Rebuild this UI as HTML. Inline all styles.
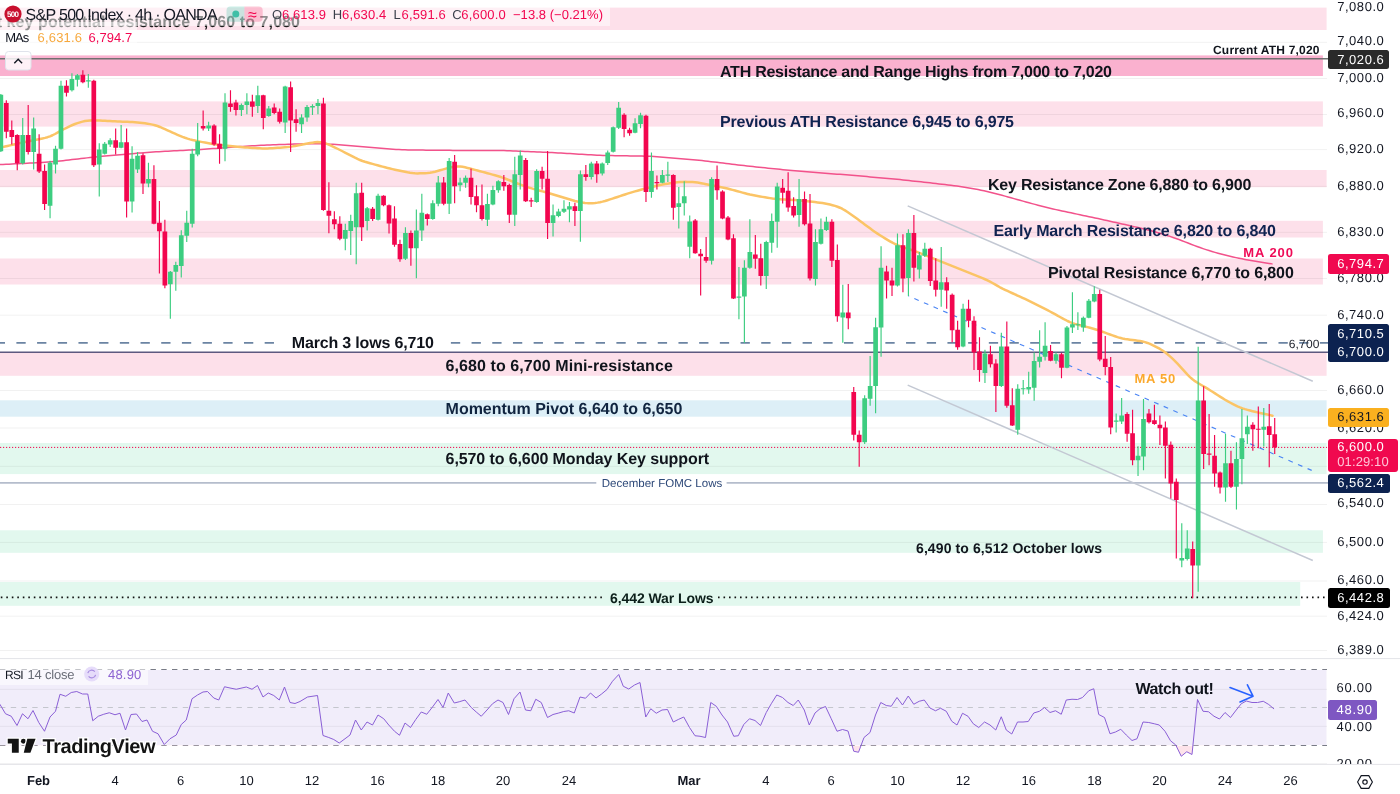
<!DOCTYPE html>
<html lang="en"><head><meta charset="utf-8"><title>S&amp;P 500 Index · 4h · OANDA</title>
<style>html,body{margin:0;padding:0;background:#fff}
body{width:1400px;height:794px;overflow:hidden;position:relative;font-family:"Liberation Sans",sans-serif;text-rendering:geometricPrecision;-webkit-font-smoothing:antialiased}
.t{position:absolute;white-space:nowrap;margin:0}
.b{position:absolute;display:block}
#chart{position:absolute;left:0;top:0}
#root{position:absolute;left:0;top:0;width:1400px;height:794px;overflow:hidden;will-change:transform}</style></head><body>
<div id="root">
<svg id="chart" width="1400" height="794" viewBox="0 0 1400 794">
<rect x="0" y="7.6" width="1326.6" height="22.4" fill="#fde0ea"/>
<rect x="0" y="55.4" width="1322.9" height="20.6" fill="#fab1cf"/>
<rect x="0" y="101.4" width="1322.9" height="25.2" fill="#fde0ea"/>
<rect x="0" y="170" width="1326.6" height="17.2" fill="#fde0ea"/>
<rect x="0" y="220.8" width="1322.9" height="16.7" fill="#fde0ea"/>
<rect x="0" y="258.5" width="1322.9" height="26" fill="#fde0ea"/>
<rect x="0" y="352.3" width="1326.6" height="23.5" fill="#fde0ea"/>
<rect x="0" y="400.3" width="1326.6" height="16.4" fill="#ddeff7"/>
<rect x="0" y="443" width="1326.6" height="31.1" fill="#e2f8ee"/>
<rect x="0" y="530.3" width="1322.9" height="22.5" fill="#e2f8ee"/>
<rect x="0" y="582" width="1300.2" height="23.8" fill="#e2f8ee"/>
<rect x="0" y="670" width="1326.5" height="75" fill="#f1edfa"/>
<line x1="0" x2="1327" y1="42.3" y2="42.3" stroke="#000" stroke-opacity=".055" stroke-width="1"/>
<line x1="0" x2="1327" y1="78.5" y2="78.5" stroke="#000" stroke-opacity=".055" stroke-width="1"/>
<line x1="0" x2="1327" y1="114.5" y2="114.5" stroke="#000" stroke-opacity=".055" stroke-width="1"/>
<line x1="0" x2="1327" y1="149.6" y2="149.6" stroke="#000" stroke-opacity=".055" stroke-width="1"/>
<line x1="0" x2="1327" y1="186.3" y2="186.3" stroke="#000" stroke-opacity=".055" stroke-width="1"/>
<line x1="0" x2="1327" y1="232.3" y2="232.3" stroke="#000" stroke-opacity=".055" stroke-width="1"/>
<line x1="0" x2="1327" y1="278.5" y2="278.5" stroke="#000" stroke-opacity=".055" stroke-width="1"/>
<line x1="0" x2="1327" y1="315.2" y2="315.2" stroke="#000" stroke-opacity=".055" stroke-width="1"/>
<line x1="0" x2="1327" y1="352.6" y2="352.6" stroke="#000" stroke-opacity=".055" stroke-width="1"/>
<line x1="0" x2="1327" y1="390.5" y2="390.5" stroke="#000" stroke-opacity=".055" stroke-width="1"/>
<line x1="0" x2="1327" y1="428" y2="428" stroke="#000" stroke-opacity=".055" stroke-width="1"/>
<line x1="0" x2="1327" y1="466.3" y2="466.3" stroke="#000" stroke-opacity=".055" stroke-width="1"/>
<line x1="0" x2="1327" y1="504.5" y2="504.5" stroke="#000" stroke-opacity=".055" stroke-width="1"/>
<line x1="0" x2="1327" y1="542.4" y2="542.4" stroke="#000" stroke-opacity=".055" stroke-width="1"/>
<line x1="0" x2="1327" y1="581" y2="581" stroke="#000" stroke-opacity=".055" stroke-width="1"/>
<line x1="0" x2="1327" y1="616.2" y2="616.2" stroke="#000" stroke-opacity=".055" stroke-width="1"/>
<line x1="0" x2="1327" y1="650.5" y2="650.5" stroke="#000" stroke-opacity=".055" stroke-width="1"/>
<line x1="0" x2="1327" y1="689.3" y2="689.3" stroke="#000" stroke-opacity=".055" stroke-width="1"/>
<line x1="0" x2="1327" y1="726.3" y2="726.3" stroke="#000" stroke-opacity=".055" stroke-width="1"/>
<line x1="0" x2="1327" y1="763.6" y2="763.6" stroke="#000" stroke-opacity=".055" stroke-width="1"/>
<line x1="0" x2="1328" y1="58.7" y2="58.7" stroke="#707070" stroke-width="1.6"/>
<line x1="-4.3" x2="1328" y1="342.9" y2="342.9" stroke="#6b84a3" stroke-width="1.7" stroke-dasharray="9.3 11.39"/>
<rect x="276.5" y="334" width="172" height="17" fill="#fff"/>
<line x1="0" x2="1328" y1="352.3" y2="352.3" stroke="#5d5980" stroke-width="1.6"/>
<line x1="0" x2="1327" y1="447.4" y2="447.4" stroke="#f2064f" stroke-width="1" stroke-dasharray="1.2 1.8"/>
<line x1="0" x2="596.3" y1="482.8" y2="482.8" stroke="#b5bdcc" stroke-width="1.8"/>
<line x1="726.6" x2="1328" y1="482.8" y2="482.8" stroke="#b5bdcc" stroke-width="1.8"/>
<line x1="0.8" x2="603" y1="597.4" y2="597.4" stroke="#111" stroke-width="1.8" stroke-dasharray="1.6 3.9"/>
<line x1="718" x2="1325" y1="597.4" y2="597.4" stroke="#111" stroke-width="1.8" stroke-dasharray="1.6 3.9"/>
<line x1="0" x2="1400" y1="658.6" y2="658.6" stroke="#e3e4e8" stroke-width="1"/>
<line x1="0" x2="1400" y1="764.4" y2="764.4" stroke="#e3e4e8" stroke-width="1"/>
<line x1="0" x2="1327" y1="669.5" y2="669.5" stroke="#787b86" stroke-width="1" stroke-dasharray="5.4 5.35"/>
<line x1="0" x2="1327" y1="745.5" y2="745.5" stroke="#787b86" stroke-width="1" stroke-dasharray="5.4 5.35"/>
<line x1="0" x2="1327" y1="707.5" y2="707.5" stroke="#c4c6cd" stroke-width="1" stroke-dasharray="5.4 5.35"/>
<line x1="907.7" y1="205.9" x2="1312.8" y2="381.31" stroke="#c3c8d3" stroke-width="1.5"/>
<line x1="907.7" y1="385.1" x2="1312.8" y2="560.51" stroke="#c3c8d3" stroke-width="1.5"/>
<path d="M0 164.6L3 164.45L6 164.3L9 164.15L12 164L15 163.86L18 163.71L21 163.56L24 163.41L27 163.26L30 163.11L33 162.96L36 162.81L39 162.65L42 162.48L45 162.29L48 162.08L51 161.84L54 161.57L57 161.28L60 160.96L63 160.63L66 160.3L69 159.95L72 159.61L75 159.26L78 158.92L81 158.57L84 158.23L87 157.88L90 157.54L93 157.21L96 156.88L99 156.57L102 156.27L105 155.98L108 155.7L111 155.43L114 155.17L117 154.91L120 154.65L123 154.4L126 154.14L129 153.89L132 153.63L135 153.38L138 153.12L141 152.88L144 152.64L147 152.41L150 152.19L153 151.99L156 151.8L159 151.63L162 151.47L165 151.32L168 151.16L171 151.01L174 150.86L177 150.72L180 150.57L183 150.42L186 150.27L189 150.11L192 149.96L195 149.8L198 149.63L201 149.45L204 149.26L207 149.05L210 148.84L213 148.62L216 148.4L219 148.18L222 147.95L225 147.72L228 147.5L231 147.27L234 147.05L237 146.82L240 146.6L243 146.38L246 146.18L249 145.98L252 145.8L255 145.64L258 145.49L261 145.35L264 145.22L267 145.1L270 144.98L273 144.86L276 144.74L279 144.62L282 144.5L285 144.38L288 144.27L291 144.16L294 144.05L297 143.96L300 143.88L303 143.81L306 143.77L309 143.74L312 143.72L315 143.73L318 143.75L321 143.79L324 143.86L327 143.98L330 144.13L333 144.33L336 144.55L339 144.8L342 145.06L345 145.32L348 145.59L351 145.85L354 146.11L357 146.36L360 146.61L363 146.86L366 147.1L369 147.35L372 147.59L375 147.83L378 148.08L381 148.32L384 148.56L387 148.8L390 149.03L393 149.24L396 149.44L399 149.6L402 149.74L405 149.84L408 149.92L411 149.98L414 150.02L417 150.06L420 150.09L423 150.12L426 150.15L429 150.18L432 150.21L435 150.24L438 150.27L441 150.3L444 150.32L447 150.35L450 150.36L453 150.38L456 150.39L459 150.39L462 150.4L465 150.4L468 150.4L471 150.4L474 150.4L477 150.4L480 150.4L483 150.4L486 150.4L489 150.41L492 150.42L495 150.44L498 150.48L501 150.53L504 150.6L507 150.69L510 150.79L513 150.91L516 151.02L519 151.15L522 151.27L525 151.4L528 151.52L531 151.65L534 151.77L537 151.9L540 152.03L543 152.16L546 152.29L549 152.43L552 152.58L555 152.74L558 152.9L561 153.07L564 153.25L567 153.43L570 153.6L573 153.78L576 153.96L579 154.14L582 154.32L585 154.5L588 154.67L591 154.84L594 155L597 155.15L600 155.28L603 155.4L606 155.49L609 155.56L612 155.62L615 155.68L618 155.72L621 155.77L624 155.81L627 155.85L630 155.89L633 155.93L636 155.98L639 156.03L642 156.09L645 156.16L648 156.25L651 156.37L654 156.53L657 156.71L660 156.92L663 157.15L666 157.39L669 157.64L672 157.9L675 158.16L678 158.41L681 158.67L684 158.93L687 159.19L690 159.46L693 159.73L696 160.01L699 160.31L702 160.62L705 160.95L708 161.29L711 161.64L714 162L717 162.36L720 162.72L723 163.08L726 163.45L729 163.81L732 164.17L735 164.53L738 164.89L741 165.25L744 165.6L747 165.95L750 166.29L753 166.61L756 166.93L759 167.24L762 167.55L765 167.85L768 168.15L771 168.45L774 168.75L777 169.04L780 169.34L783 169.64L786 169.94L789 170.23L792 170.52L795 170.81L798 171.08L801 171.35L804 171.61L807 171.85L810 172.09L813 172.32L816 172.55L819 172.78L822 173.01L825 173.23L828 173.46L831 173.68L834 173.91L837 174.14L840 174.37L843 174.6L846 174.83L849 175.07L852 175.32L855 175.57L858 175.83L861 176.09L864 176.35L867 176.62L870 176.89L873 177.16L876 177.42L879 177.69L882 177.96L885 178.23L888 178.5L891 178.77L894 179.05L897 179.33L900 179.62L903 179.92L906 180.23L909 180.55L912 180.88L915 181.21L918 181.54L921 181.87L924 182.21L927 182.54L930 182.87L933 183.21L936 183.54L939 183.88L942 184.22L945 184.57L948 184.94L951 185.31L954 185.7L957 186.11L960 186.53L963 186.97L966 187.42L969 187.9L972 188.4L975 188.94L978 189.53L981 190.16L984 190.84L987 191.54L990 192.27L993 193.02L996 193.78L999 194.56L1002 195.35L1005 196.15L1008 196.97L1011 197.8L1014 198.63L1017 199.47L1020 200.3L1023 201.14L1026 201.96L1029 202.78L1032 203.6L1035 204.4L1038 205.2L1041 205.98L1044 206.75L1047 207.5L1050 208.23L1053 208.94L1056 209.62L1059 210.28L1062 210.93L1065 211.58L1068 212.21L1071 212.85L1074 213.49L1077 214.12L1080 214.76L1083 215.4L1086 216.03L1089 216.67L1092 217.31L1095 217.96L1098 218.6L1101 219.26L1104 219.92L1107 220.58L1110 221.24L1113 221.91L1116 222.58L1119 223.26L1122 223.93L1125 224.6L1128 225.27L1131 225.95L1134 226.62L1137 227.3L1140 227.99L1143 228.7L1146 229.43L1149 230.19L1152 230.99L1155 231.83L1158 232.69L1161 233.58L1164 234.5L1167 235.44L1170 236.41L1173 237.42L1176 238.48L1179 239.57L1182 240.71L1185 241.87L1188 243.05L1191 244.22L1194 245.37L1197 246.49L1200 247.57L1203 248.6L1206 249.59L1209 250.54L1212 251.46L1215 252.35L1218 253.22L1221 254.05L1224 254.84L1227 255.59L1230 256.29L1233 256.96L1236 257.61L1239 258.23L1242 258.83L1245 259.41L1248 259.98L1251 260.52L1254 261.04L1257 261.53L1260 262.02L1263 262.49L1266 262.96L1269 263.42L1272 263.88" fill="none" stroke="#f2528b" stroke-width="1.5" stroke-linecap="round" stroke-linejoin="round"/>
<path d="M0 147.7L2.5 147.12L5 146.55L7.5 145.97L10 145.4L12.5 144.82L15 144.25L17.5 143.67L20 143.11L22.5 142.54L25 142L27.5 141.47L30 140.96L32.5 140.45L35 139.96L37.5 139.46L40 138.96L42.5 138.44L45 137.87L47.5 137.19L50 136.34L52.5 135.26L55 133.99L57.5 132.61L60 131.19L62.5 129.82L65 128.51L67.5 127.28L70 126.11L72.5 125.02L75 124.02L77.5 123.13L80 122.34L82.5 121.65L85 121.08L87.5 120.67L90 120.43L92.5 120.36L95 120.4L97.5 120.5L100 120.62L102.5 120.74L105 120.87L107.5 121L110 121.12L112.5 121.24L115 121.35L117.5 121.46L120 121.56L122.5 121.66L125 121.76L127.5 121.86L130 121.97L132.5 122.08L135 122.23L137.5 122.41L140 122.66L142.5 122.97L145 123.32L147.5 123.7L150 124.12L152.5 124.62L155 125.24L157.5 126.03L160 126.97L162.5 128.03L165 129.15L167.5 130.3L170 131.46L172.5 132.6L175 133.71L177.5 134.79L180 135.82L182.5 136.82L185 137.75L187.5 138.61L190 139.36L192.5 140.01L195 140.58L197.5 141.1L200 141.61L202.5 142.11L205 142.6L207.5 143.09L210 143.56L212.5 143.99L215 144.37L217.5 144.71L220 145L222.5 145.27L225 145.53L227.5 145.79L230 146.05L232.5 146.3L235 146.55L237.5 146.79L240 147L242.5 147.2L245 147.38L247.5 147.56L250 147.73L252.5 147.9L255 148.06L257.5 148.22L260 148.35L262.5 148.44L265 148.46L267.5 148.4L270 148.29L272.5 148.15L275 147.98L277.5 147.82L280 147.64L282.5 147.47L285 147.27L287.5 147.03L290 146.73L292.5 146.37L295 145.95L297.5 145.5L300 145.03L302.5 144.56L305 144.08L307.5 143.59L310 143.1L312.5 142.64L315 142.28L317.5 142.12L320 142.23L322.5 142.62L325 143.28L327.5 144.14L330 145.17L332.5 146.31L335 147.52L337.5 148.75L340 150L342.5 151.25L345 152.51L347.5 153.79L350 155.08L352.5 156.39L355 157.69L357.5 158.91L360 160.02L362.5 160.97L365 161.79L367.5 162.53L370 163.23L372.5 163.92L375 164.6L377.5 165.28L380 165.96L382.5 166.64L385 167.3L387.5 167.93L390 168.53L392.5 169.11L395 169.67L397.5 170.22L400 170.76L402.5 171.3L405 171.84L407.5 172.34L410 172.78L412.5 173.11L415 173.3L417.5 173.38L420 173.37L422.5 173.31L425 173.2L427.5 173.01L430 172.71L432.5 172.26L435 171.68L437.5 171.01L440 170.3L442.5 169.59L445 168.89L447.5 168.22L450 167.59L452.5 167.04L455 166.63L457.5 166.43L460 166.5L462.5 166.82L465 167.32L467.5 167.92L470 168.56L472.5 169.22L475 169.88L477.5 170.54L480 171.21L482.5 171.88L485 172.56L487.5 173.23L490 173.91L492.5 174.59L495 175.28L497.5 176L500 176.78L502.5 177.62L505 178.53L507.5 179.49L510 180.47L512.5 181.47L515 182.47L517.5 183.47L520 184.45L522.5 185.41L525 186.32L527.5 187.16L530 187.93L532.5 188.65L535 189.34L537.5 190.02L540 190.7L542.5 191.37L545 192.05L547.5 192.74L550 193.45L552.5 194.18L555 194.93L557.5 195.71L560 196.49L562.5 197.27L565 198.04L567.5 198.8L570 199.54L572.5 200.26L575 200.95L577.5 201.57L580 202.11L582.5 202.55L585 202.9L587.5 203.13L590 203.22L592.5 203.16L595 202.96L597.5 202.63L600 202.18L602.5 201.62L605 200.96L607.5 200.21L610 199.41L612.5 198.59L615 197.77L617.5 196.94L620 196.11L622.5 195.29L625 194.48L627.5 193.68L630 192.91L632.5 192.15L635 191.42L637.5 190.69L640 189.98L642.5 189.28L645 188.61L647.5 187.97L650 187.35L652.5 186.74L655 186.16L657.5 185.59L660 185.05L662.5 184.55L665 184.09L667.5 183.65L670 183.25L672.5 182.89L675 182.57L677.5 182.3L680 182.09L682.5 181.94L685 181.87L687.5 181.88L690 181.96L692.5 182.11L695 182.31L697.5 182.59L700 182.95L702.5 183.4L705 183.92L707.5 184.46L710 184.99L712.5 185.5L715 185.97L717.5 186.44L720 186.9L722.5 187.4L725 187.93L727.5 188.52L730 189.17L732.5 189.84L735 190.52L737.5 191.22L740 191.91L742.5 192.6L745 193.27L747.5 193.92L750 194.52L752.5 195.06L755 195.55L757.5 196L760 196.44L762.5 196.87L765 197.3L767.5 197.72L770 198.13L772.5 198.51L775 198.83L777.5 199.09L780 199.29L782.5 199.45L785 199.59L787.5 199.72L790 199.85L792.5 199.98L795 200.12L797.5 200.28L800 200.46L802.5 200.68L805 200.94L807.5 201.22L810 201.51L812.5 201.81L815 202.1L817.5 202.41L820 202.73L822.5 203.08L825 203.5L827.5 203.99L830 204.56L832.5 205.19L835 205.9L837.5 206.73L840 207.73L842.5 208.96L845 210.42L847.5 212.03L850 213.74L852.5 215.5L855 217.29L857.5 219.1L860 220.94L862.5 222.79L865 224.65L867.5 226.52L870 228.37L872.5 230.18L875 231.95L877.5 233.64L880 235.25L882.5 236.81L885 238.33L887.5 239.83L890 241.3L892.5 242.71L895 244.01L897.5 245.16L900 246.16L902.5 247.05L905 247.88L907.5 248.68L910 249.49L912.5 250.33L915 251.22L917.5 252.15L920 253.12L922.5 254.11L925 255.11L927.5 256.11L930 257.11L932.5 258.11L935 259.12L937.5 260.12L940 261.12L942.5 262.12L945 263.12L947.5 264.13L950 265.13L952.5 266.13L955 267.13L957.5 268.13L960 269.14L962.5 270.14L965 271.14L967.5 272.14L970 273.14L972.5 274.15L975 275.15L977.5 276.15L980 277.16L982.5 278.18L985 279.24L987.5 280.38L990 281.62L992.5 282.99L995 284.43L997.5 285.89L1000 287.28L1002.5 288.59L1005 289.81L1007.5 290.98L1010 292.12L1012.5 293.25L1015 294.39L1017.5 295.52L1020 296.66L1022.5 297.81L1025 298.99L1027.5 300.19L1030 301.42L1032.5 302.65L1035 303.9L1037.5 305.15L1040 306.4L1042.5 307.65L1045 308.92L1047.5 310.19L1050 311.5L1052.5 312.84L1055 314.21L1057.5 315.6L1060 316.99L1062.5 318.38L1065 319.73L1067.5 321L1070 322.13L1072.5 323.1L1075 323.91L1077.5 324.61L1080 325.27L1082.5 325.9L1085 326.53L1087.5 327.16L1090 327.8L1092.5 328.48L1095 329.2L1097.5 329.99L1100 330.84L1102.5 331.73L1105 332.64L1107.5 333.56L1110 334.47L1112.5 335.39L1115 336.27L1117.5 337.1L1120 337.84L1122.5 338.44L1125 338.93L1127.5 339.33L1130 339.68L1132.5 340.02L1135 340.35L1137.5 340.69L1140 341.07L1142.5 341.53L1145 342.14L1147.5 342.94L1150 343.93L1152.5 345.07L1155 346.29L1157.5 347.58L1160 348.96L1162.5 350.51L1165 352.26L1167.5 354.23L1170 356.37L1172.5 358.65L1175 361.07L1177.5 363.64L1180 366.35L1182.5 369.15L1185 371.95L1187.5 374.65L1190 377.14L1192.5 379.31L1195 381.16L1197.5 382.78L1200 384.27L1202.5 385.71L1205 387.17L1207.5 388.67L1210 390.22L1212.5 391.8L1215 393.4L1217.5 395.01L1220 396.61L1222.5 398.18L1225 399.7L1227.5 401.15L1230 402.52L1232.5 403.83L1235 405.08L1237.5 406.27L1240 407.37L1242.5 408.34L1245 409.17L1247.5 409.89L1250 410.56L1252.5 411.18L1255 411.79L1257.5 412.38L1260 412.95L1262.5 413.5L1265 414.05L1267.5 414.59L1270 415.13L1272.5 415.67" fill="none" stroke="#fbc466" stroke-width="2.5" stroke-linecap="round" stroke-linejoin="round"/>
<line x1="908.5" y1="296" x2="1311.7" y2="470.4" stroke="#4a84f4" stroke-width="1.15" stroke-dasharray="4.8 5.65" stroke-dashoffset="4.1"/>
<path d="M0.85 94.07V151.99M22.72 117.99V164.58M33.66 117.49V169.62M50.06 160.8V218.22M55.52 145.69V173.39M60.99 80.72V149.47M71.93 73.17V91.55M77.39 73.92V86.51M88.33 73.92V87.77M99.26 143.18V196.56M104.73 141.92V154.51M110.2 138.14V146.95M121.13 125.04V148.21M132.07 146.2V212.43M137.53 151.99V172.89M148.47 162.82V187.25M170.34 271.01V318.86M175.8 261.7V290.66M181.27 230.22V277.56M186.74 210.66V241.89M192.21 148.72V227.54M197.67 123.03V156.27M208.61 121.77V131.09M225.01 93.31V161.31M241.41 103.39V115.98M246.88 93.31V114.22M257.81 85.76V112.96M268.75 105.91V116.73M285.15 85.76V133.1M301.55 114.22V133.1M307.02 104.9V121.77M312.48 104.14V114.97M317.95 99.11V114.22M345.29 223.76V250.37M350.75 214.65V254.95M356.22 182.67V264.26M367.16 207.1V230.52M378.09 193.75V220.45M405.43 227.25V259.98M416.36 209.62V278.37M421.83 193.75V241.1M432.76 200.3V219.69M438.23 176.12V206.34M449.16 157.99V213.9M460.1 177.64V191.23M465.56 175.62V187.71M487.43 193.75V225.99M492.9 185.69V205.34M498.37 180.15V192.74M514.77 156.73V225.99M520.24 150.44V189.47M536.64 169.33V202.82M553.04 204.58V236.56M558.51 208.86V217.17M563.97 200.3V212.89M569.44 202.06V222.21M580.38 170.58V241.85M591.31 161.77V179.4M602.25 162.53V175.62M607.71 150.44V165.04M613.18 126.51V152.45M618.65 102.09V129.03M635.05 118.2V133.31M640.52 112.66V128.28M651.45 152.45V197.78M662.38 170.08V183.18M667.85 161.77V181.92M678.79 186.95V228.5M684.25 181.16V215.41M689.72 215.41V258.22M711.59 177.2V264.58M738.92 267.1V319.23M744.39 260.3V342.65M749.86 219.25V268.86M766.26 240.66V289.01M771.73 213.46V252.74M777.2 182.74V247.71M799.06 178.96V226.81M815.47 229.33V285.48M820.93 218.5V244.43M826.4 216.73V231.09M842.8 284.73V342.65M864.67 395.19V444.04M870.14 355.91V405.77M875.6 317.63V413.32M881.07 246.2V356.66M897.47 233.61V286.49M908.41 229.33V296.06M919.34 251.99V278.43M924.81 242.67V257.03M941.21 246.95V306.64M963.08 303.78V347.34M984.95 349.86V383.1M1001.35 332.74V386.88M1017.75 384.36V434.73M1023.22 380.08V394.43M1028.69 371.77V393.68M1034.15 352.38V400.73M1039.62 330.22V367.49M1045.09 322.16V360.44M1056.02 352.6V363.68M1066.96 325.91V368.21M1072.42 292.16V332.96M1077.89 312.31V329.93M1083.36 316.59V331.7M1088.83 298.96V318.35M1094.29 286.37V302.23M1116.16 413.54V432.43M1121.63 397.93V424.12M1138.03 446.28V475.91M1143.5 398.93V470.37M1181.77 523.25V567.32M1187.24 530.3V560.52M1198.17 346.81V591.75M1225.51 433.85V501.84M1236.44 442.16V509.4M1241.91 409.01V484.22M1247.37 415.56V443.92M1263.78 408V446.44" stroke="#3dcd80" stroke-width="1.15" fill="none"/>
<path d="M-1.5 94.82h4.7V151.23h-4.7zM20.37 135.12h4.7V163.32h-4.7zM31.31 128.57h4.7V151.99h-4.7zM47.71 162.82h4.7V205.63h-4.7zM53.17 148.72h4.7V164.58h-4.7zM58.64 85.76h4.7V148.72h-4.7zM69.58 78.96h4.7V90.29h-4.7zM75.04 75.18h4.7V79.72h-4.7zM85.98 80.22h4.7V81.42h-4.7zM96.91 149.47h4.7V164.58h-4.7zM102.38 143.68h4.7V153.75h-4.7zM107.85 140.15h4.7V144.43h-4.7zM118.78 142.17h4.7V147.71h-4.7zM129.72 158.79h4.7V201.6h-4.7zM135.18 155.77h4.7V169.62h-4.7zM146.12 178.93h4.7V183.47h-4.7zM167.99 271.77h4.7V284.36h-4.7zM173.45 264.97h4.7V271.77h-4.7zM178.92 235.26h4.7V265.98h-4.7zM184.39 222.75h4.7V235.85h-4.7zM189.86 153.75h4.7V223.76h-4.7zM195.32 141.16h4.7V154.51h-4.7zM206.26 125.55h4.7V128.57h-4.7zM222.66 102.38h4.7V148.72h-4.7zM239.06 104.9h4.7V109.93h-4.7zM244.53 101.62h4.7V104.9h-4.7zM255.46 95.33h4.7V105.91h-4.7zM266.4 108.42h4.7V115.98h-4.7zM282.8 86.51h4.7V122.53h-4.7zM299.2 117.49h4.7V124.29h-4.7zM304.67 106.91h4.7V117.49h-4.7zM310.13 105.91h4.7V107.42h-4.7zM315.6 102.88h4.7V105.91h-4.7zM342.94 230.06h4.7V238.87h-4.7zM348.4 220.95h4.7V231.02h-4.7zM353.87 193.25h4.7V227.25h-4.7zM364.81 208.36h4.7V220.95h-4.7zM375.74 195.77h4.7V219.69h-4.7zM403.08 233.04h4.7V258.72h-4.7zM414.01 230.52h4.7V248.15h-4.7zM419.48 212.64h4.7V230.52h-4.7zM430.41 203.32h4.7V218.93h-4.7zM435.88 182.42h4.7V203.83h-4.7zM446.81 161.01h4.7V203.83h-4.7zM457.75 182.42h4.7V185.19h-4.7zM463.21 177.64h4.7V182.67h-4.7zM485.08 204.08h4.7V219.69h-4.7zM490.55 189.97h4.7V204.58h-4.7zM496.02 181.16h4.7V190.23h-4.7zM512.42 174.36h4.7V214.65h-4.7zM517.89 155.47h4.7V175.12h-4.7zM534.29 171.09h4.7V202.06h-4.7zM550.69 215.16h4.7V222.96h-4.7zM556.16 211.38h4.7V215.91h-4.7zM561.62 208.86h4.7V211.63h-4.7zM567.09 206.34h4.7V209.62h-4.7zM578.03 174.36h4.7V210.88h-4.7zM588.96 163.53h4.7V176.88h-4.7zM599.89 163.53h4.7V173.61h-4.7zM605.36 152.45h4.7V163.03h-4.7zM610.83 127.27h4.7V151.7h-4.7zM616.3 107.63h4.7V127.77h-4.7zM632.7 123.24h4.7V132.81h-4.7zM638.17 115.18h4.7V124h-4.7zM649.1 171.09h4.7V191.99h-4.7zM660.03 175.12h4.7V182.67h-4.7zM665.5 174.61h4.7V175.81h-4.7zM676.44 203.32h4.7V207.1h-4.7zM681.9 196.27h4.7V203.32h-4.7zM687.37 221.45h4.7V246.64h-4.7zM709.24 178.96h4.7V260.8h-4.7zM736.57 296.56h4.7V297.76h-4.7zM742.04 267.85h4.7V296.56h-4.7zM747.51 251.99h4.7V267.85h-4.7zM763.91 241.92h4.7V275.91h-4.7zM769.38 221.01h4.7V242.67h-4.7zM774.85 186.51h4.7V221.77h-4.7zM796.71 199.11h4.7V214.97h-4.7zM813.12 241.92h4.7V278.93h-4.7zM818.58 229.33h4.7V243.68h-4.7zM824.05 221.77h4.7V230.08h-4.7zM840.45 312.43h4.7V317.46h-4.7zM862.32 398.21h4.7V442.28h-4.7zM867.79 386.12h4.7V398.72h-4.7zM873.25 327.2h4.7V386.12h-4.7zM878.72 267.85h4.7V327.54h-4.7zM895.12 245.19h4.7V285.48h-4.7zM906.06 233.1h4.7V277.93h-4.7zM916.99 255.26h4.7V269.62h-4.7zM922.46 248.72h4.7V255.77h-4.7zM938.86 282.21h4.7V289.76h-4.7zM960.73 308.81h4.7V346.59h-4.7zM982.6 353.39h4.7V373.03h-4.7zM999 346.59h4.7V386.12h-4.7zM1015.4 388.64h4.7V429.69h-4.7zM1020.87 388.14h4.7V389.34h-4.7zM1026.34 386.88h4.7V389.4h-4.7zM1031.8 360.94h4.7V387.64h-4.7zM1037.27 356.66h4.7V361.7h-4.7zM1042.74 345.83h4.7V356.66h-4.7zM1053.67 354.36h4.7V360.66h-4.7zM1064.61 327.42h4.7V367.71h-4.7zM1070.07 324.14h4.7V327.42h-4.7zM1075.54 324.14h4.7V325.34h-4.7zM1081.01 317.85h4.7V327.42h-4.7zM1086.48 300.72h4.7V317.85h-4.7zM1091.94 293.92h4.7V301.48h-4.7zM1113.81 420.59h4.7V421.79h-4.7zM1119.28 415.56h4.7V421.6h-4.7zM1135.68 455.76h4.7V460.29h-4.7zM1141.15 419.08h4.7V456.51h-4.7zM1179.42 558h4.7V560.52h-4.7zM1184.89 548.43h4.7V559.01h-4.7zM1195.82 400.45h4.7V565.56h-4.7zM1223.16 463.31h4.7V487.49h-4.7zM1234.09 459.03h4.7V486.73h-4.7zM1239.56 438.22h4.7V459.03h-4.7zM1245.02 426.64h4.7V434.19h-4.7zM1261.43 426.64h4.7V429.66h-4.7z" fill="#3dcd80"/>
<path d="M6.32 100.37V138.14M11.79 120.51V144.43M17.25 134.36V170.37M28.19 104.9V154.51M39.12 134.36V172.89M44.59 164.58V209.91M66.46 80.22V96.59M82.86 70.15V83.24M93.8 79.72V167.1M115.66 128.57V154.51M126.6 128.57V217.46M143 153.25V194.04M153.93 165.34V224.26M159.4 201.1V273.53M164.87 219.64V288.14M203.14 110.44V130.58M214.07 124.29V145.69M219.54 134.36V163.83M230.48 90.29V111.7M235.94 99.86V115.47M252.34 94.82V116.73M263.28 94.82V129.33M274.21 103.39V114.22M279.68 108.42V123.53M290.61 81.48V151.99M296.08 109.18V131.84M323.42 97.85V210.66M328.88 182.21V233.33M334.35 211.17V229.3M339.82 216.2V240.13M361.69 182.67V241.1M372.62 207.1V220.95M383.56 195.26V206.34M389.02 204.58V233.54M394.49 206.34V246.64M399.96 239.84V261.75M410.89 230.52V265.77M427.29 213.39V225.48M443.7 176.88V205.34M454.63 154.97V203.32M471.03 168.57V204.58M476.5 185.19V212.14M481.97 184.43V220.45M503.84 175.12V190.73M509.3 183.68V222.96M525.7 157.99V202.06M531.17 197.78V207.1M542.11 166.81V189.47M547.57 150.94V239.08M574.91 202.82V225.99M585.84 165.04V180.66M596.78 161.01V182.67M624.11 113.17V137.34M629.58 127.77V135.83M645.98 114.68V202.06M656.92 175.62V189.47M673.32 174.36V219.69M695.19 218.93V253.69M700.65 249.09V295.43M706.12 236.88V262.82M717.06 165.61V199.86M722.52 190.29V219.25M727.99 215.98V240.15M733.46 234.36V299.08M755.33 235.12V268.86M760.79 243.68V285.48M782.66 178.96V203.39M788.13 172.16V211.7M793.6 197.34V217.49M804.53 191.55V225.55M810 194.07V280.45M831.87 219.25V267.1M837.33 244.43V321.75M848.27 283.97V329.3M853.74 386.88V440.52M859.2 430.45V466.71M886.54 265.84V298.58M892.01 267.85V296.06M902.94 234.36V292.28M913.88 214.97V281.45M930.28 247.71V285.99M935.74 258.29V296.56M946.68 277.17V308.65M952.15 293.54V342.31M957.61 320.65V349.86M968.55 299.84V327.2M974.01 316.2V370.01M979.48 337.27V381.84M990.42 345.83V367.49M995.88 359.18V412.06M1006.82 321.41V407.78M1012.28 388.14V425.91M1050.56 345.04V361.16M1061.49 353.1V378.29M1099.76 289.64V361.16M1105.23 335.98V375.26M1110.69 356.88V434.19M1127.1 412.28V441.75M1132.56 409.76V465.33M1148.97 409.01V423.61M1154.43 404.73V424.87M1159.9 415.56V445.02M1165.37 421.6V478.42M1170.83 441.41V498.57M1176.3 478.42V558.5M1192.7 541.38V598.29M1203.64 386.34V469.11M1209.1 414.04V465.33M1214.57 435.11V486.73M1220.04 471.62V493.53M1230.97 450.72V487.99M1252.84 422.35V450.72M1258.31 406.49V448.2M1269.24 403.97V467.34M1274.71 418.07V454" stroke="#f2064f" stroke-width="1.15" fill="none"/>
<path d="M3.97 102.88h4.7V131.84h-4.7zM9.44 130.08h4.7V136.88h-4.7zM14.9 135.12h4.7V163.32h-4.7zM25.84 135.12h4.7V151.99h-4.7zM36.77 153.75h4.7V171.38h-4.7zM42.24 170.88h4.7V204.12h-4.7zM64.11 85.76h4.7V92.81h-4.7zM80.51 74.68h4.7V82.23h-4.7zM91.45 80.72h4.7V165.34h-4.7zM113.31 140.15h4.7V147.71h-4.7zM124.25 142.17h4.7V201.6h-4.7zM140.65 155.26h4.7V183.47h-4.7zM151.58 178.93h4.7V223.76h-4.7zM157.05 222.75h4.7V231.31h-4.7zM162.52 231.48h4.7V285.62h-4.7zM200.79 126.05h4.7V128.57h-4.7zM211.72 125.55h4.7V144.43h-4.7zM217.19 143.68h4.7V148.72h-4.7zM228.13 103.39h4.7V106.91h-4.7zM233.59 102.38h4.7V109.93h-4.7zM249.99 101.62h4.7V106.66h-4.7zM260.93 95.33h4.7V117.99h-4.7zM271.86 107.42h4.7V112.96h-4.7zM277.33 111.7h4.7V121.77h-4.7zM288.26 87.27h4.7V120.51h-4.7zM293.73 119.25h4.7V123.03h-4.7zM321.07 103.39h4.7V209.91h-4.7zM326.53 210.66h4.7V215.7h-4.7zM332 219.23h4.7V224.26h-4.7zM337.47 223.76h4.7V238.87h-4.7zM359.34 192.74h4.7V227.25h-4.7zM370.27 208.86h4.7V218.93h-4.7zM381.21 195.77h4.7V205.34h-4.7zM386.67 205.34h4.7V223.47h-4.7zM392.14 218.43h4.7V244.87h-4.7zM397.61 244.12h4.7V259.23h-4.7zM408.54 233.04h4.7V248.15h-4.7zM424.94 214.15h4.7V218.93h-4.7zM441.35 182.42h4.7V203.83h-4.7zM452.28 161.77h4.7V186.2h-4.7zM468.68 177.64h4.7V197.03h-4.7zM474.15 196.27h4.7V205.34h-4.7zM479.62 205.34h4.7V218.93h-4.7zM501.49 181.92h4.7V186.2h-4.7zM506.95 184.94h4.7V214.65h-4.7zM523.35 160.01h4.7V201.31h-4.7zM528.82 200.3h4.7V201.5h-4.7zM539.76 171.09h4.7V178.64h-4.7zM545.22 178.64h4.7V222.96h-4.7zM572.56 206.34h4.7V210.88h-4.7zM583.49 174.36h4.7V176.88h-4.7zM594.43 163.53h4.7V174.36h-4.7zM621.76 114.68h4.7V129.03h-4.7zM627.23 129.79h4.7V133.31h-4.7zM643.63 115.69h4.7V191.99h-4.7zM654.57 181.92h4.7V183.18h-4.7zM670.97 175.12h4.7V207.85h-4.7zM692.84 220.45h4.7V253.18h-4.7zM698.3 253.63h4.7V256.27h-4.7zM703.77 257.03h4.7V260.8h-4.7zM714.71 178.96h4.7V190.29h-4.7zM720.17 191.55h4.7V218.5h-4.7zM725.64 217.49h4.7V239.4h-4.7zM731.11 238.14h4.7V298.58h-4.7zM752.98 254.51h4.7V258.79h-4.7zM758.44 258.29h4.7V275.91h-4.7zM780.31 187.77h4.7V192.81h-4.7zM785.78 190.8h4.7V207.42h-4.7zM791.25 205.91h4.7V215.47h-4.7zM802.18 199.11h4.7V224.29h-4.7zM807.65 223.53h4.7V278.43h-4.7zM829.52 221.77h4.7V260.8h-4.7zM834.98 260.05h4.7V316.2h-4.7zM845.92 312.43h4.7V318.22h-4.7zM851.39 391.92h4.7V434.73h-4.7zM856.85 434.73h4.7V442.28h-4.7zM884.19 271.38h4.7V280.45h-4.7zM889.66 280.45h4.7V285.48h-4.7zM900.59 245.19h4.7V278.43h-4.7zM911.53 233.1h4.7V267.85h-4.7zM927.93 248.72h4.7V280.95h-4.7zM933.39 280.45h4.7V289.76h-4.7zM944.33 282.21h4.7V290.52h-4.7zM949.8 294.8h4.7V330.22h-4.7zM955.26 329.72h4.7V347.34h-4.7zM966.2 308.81h4.7V320.65h-4.7zM971.66 320.65h4.7V352.38h-4.7zM977.13 351.62h4.7V370.01h-4.7zM988.07 354.14h4.7V364.22h-4.7zM993.53 363.46h4.7V386.12h-4.7zM1004.47 346.59h4.7V405.77h-4.7zM1009.93 405.26h4.7V425.41h-4.7zM1048.21 351.09h4.7V360.66h-4.7zM1059.14 354.36h4.7V367.71h-4.7zM1097.41 293.92h4.7V359.4h-4.7zM1102.88 358.64h4.7V366.95h-4.7zM1108.34 366.95h4.7V427.39h-4.7zM1124.75 414.04h4.7V433.69h-4.7zM1130.21 433.18h4.7V460.29h-4.7zM1146.62 413.54h4.7V422.35h-4.7zM1152.08 420.34h4.7V424.12h-4.7zM1157.55 424.87h4.7V428.15h-4.7zM1163.02 427.39h4.7V445.69h-4.7zM1168.48 444.68h4.7V483.46h-4.7zM1173.95 481.7h4.7V500.08h-4.7zM1190.35 548.93h4.7V565.56h-4.7zM1201.29 400.45h4.7V454h-4.7zM1206.75 453.49h4.7V454.69h-4.7zM1212.22 455.76h4.7V473.39h-4.7zM1217.69 472.38h4.7V487.49h-4.7zM1228.62 463.31h4.7V486.73h-4.7zM1250.49 424.87h4.7V429.15h-4.7zM1255.96 428.65h4.7V429.85h-4.7zM1266.89 426.13h4.7V434.95h-4.7zM1272.36 434.19h4.7V447.54h-4.7z" fill="#f2064f"/>
<clipPath id="os"><rect x="0" y="745.5" width="1327" height="19"/></clipPath>
<path d="M0 745.5L0 704.5L5.5 713.75L11.25 716.25L17 725.5L22.5 713.75L28 718.75L33 710.5L38.75 722.5L44.5 731.25L50 717L55.5 711.25L60 694.25L65.75 696.25L71.25 692.5L76.75 691.5L82.5 694L87.75 694L92.75 720.75L98.25 716.25L103.75 714.25L109.25 712.75L115 714.75L120 713.25L125.5 730L131 714.5L136.5 714L142 721.5L147 720L152.5 731.25L158 733.75L164.25 744.5L170 738.75L176.25 735L181.25 724.5L186.25 720L192 698.75L197.5 695L203 692L207.5 691.5L213.75 698L218.75 700L224.5 686.75L230 688L236.25 689.25L246.25 687L252 689.25L257.5 685.5L263 697L268.25 693L273.75 695.5L279.25 700L284.5 687L290 702.5L295 703.5L300 701.5L307.5 697L317.5 695.5L323 735.5L328.75 737.5L333.75 739.5L339.25 743L345 738.75L350 735L355.5 720L361.25 730L367 722L372.5 725L378 715L383.75 718.75L388.75 725L394.5 731.25L399.5 735.25L405 723L410.5 727.5L415.75 719.5L421.25 712L426.75 714.25L432.5 707L438 699.5L443 707.5L448.25 693L454.25 703L459.25 701.75L465 700L471.25 707.5L476.25 712L481.25 716.25L487 710L492.5 703.75L498 700L503 702.5L508.5 714.5L514 698.75L520 692L525.5 710L530.75 710.75L535.75 699.25L541.25 702.5L547.5 717.5L553 714.5L558.75 713L563.75 711.5L568.75 710.75L574.25 713L580 697L585.5 698.25L590.5 693L596 698L601.25 694.25L607 689.5L612.5 681.25L618.75 674.5L623.25 686.25L628.75 689L634.5 685L640 682.5L645.75 717L650.75 708.75L656.25 713.25L662 710L667.5 709.5L673.25 722L678.25 719.5L683.75 717L689.5 727.5L695 735.75L700 736.25L705.5 737.5L710.75 702.5L716.25 706.25L722 715L727.5 722L733.75 736.25L738.25 735.75L743.75 724.5L749.5 718.75L755 720.5L760.5 725.5L766.25 712.5L771.25 703.75L776.75 695L782.5 697.5L788 702.5L793.25 705.5L798.25 700L804.25 710L809.25 725L815 713L820 708.75L825.5 706.5L831.25 718.75L837 731.25L842.5 729.5L848 731L853.75 751.25L858.5 752.25L864 737.5L870 732.5L875.5 715L880.75 702.5L886.25 705.5L891.25 706.25L897 697.5L902.5 705L908.25 696L913.75 704.25L919.25 701.25L924.25 700L930 708L935.5 710.75L940.5 708.25L946.25 711.25L951.75 721.25L957 725L962.5 713.25L968 716.25L973.25 723.75L978.75 727.5L984.5 722L990 725L995.75 730L1001.25 716.75L1006.25 730L1011.75 734L1017.5 722L1023 722L1028.25 721.5L1033.75 713L1039.5 711.25L1044.5 707.5L1050 712.5L1055.5 710.75L1061.25 714.25L1066.25 700L1072 699.25L1077.5 699.5L1082.5 697.5L1088.75 690.75L1093.75 688.75L1098.75 714.5L1104.5 717.5L1110 733.75L1115.5 732L1120.75 729.25L1126.25 735L1132 740.5L1137 738.75L1143 722L1148.75 722.5L1154.25 723.75L1159.25 725L1165 731.25L1170.5 740.75L1175.75 745L1181.25 756.25L1186.75 751.75L1192 754.5L1197.5 699.5L1203 711.25L1208.5 711.75L1214 716.25L1219.5 719L1225 712.5L1230.5 717.5L1236.25 710L1241.25 703.75L1246.25 701L1252 702.5L1257.5 702.5L1263.25 701.25L1268.75 704.5L1273.75 708.75L1273.75 745.5z" fill="#fde3ea" clip-path="url(#os)"/>
<polyline points="0,704.5 5.5,713.75 11.25,716.25 17,725.5 22.5,713.75 28,718.75 33,710.5 38.75,722.5 44.5,731.25 50,717 55.5,711.25 60,694.25 65.75,696.25 71.25,692.5 76.75,691.5 82.5,694 87.75,694 92.75,720.75 98.25,716.25 103.75,714.25 109.25,712.75 115,714.75 120,713.25 125.5,730 131,714.5 136.5,714 142,721.5 147,720 152.5,731.25 158,733.75 164.25,744.5 170,738.75 176.25,735 181.25,724.5 186.25,720 192,698.75 197.5,695 203,692 207.5,691.5 213.75,698 218.75,700 224.5,686.75 230,688 236.25,689.25 246.25,687 252,689.25 257.5,685.5 263,697 268.25,693 273.75,695.5 279.25,700 284.5,687 290,702.5 295,703.5 300,701.5 307.5,697 317.5,695.5 323,735.5 328.75,737.5 333.75,739.5 339.25,743 345,738.75 350,735 355.5,720 361.25,730 367,722 372.5,725 378,715 383.75,718.75 388.75,725 394.5,731.25 399.5,735.25 405,723 410.5,727.5 415.75,719.5 421.25,712 426.75,714.25 432.5,707 438,699.5 443,707.5 448.25,693 454.25,703 459.25,701.75 465,700 471.25,707.5 476.25,712 481.25,716.25 487,710 492.5,703.75 498,700 503,702.5 508.5,714.5 514,698.75 520,692 525.5,710 530.75,710.75 535.75,699.25 541.25,702.5 547.5,717.5 553,714.5 558.75,713 563.75,711.5 568.75,710.75 574.25,713 580,697 585.5,698.25 590.5,693 596,698 601.25,694.25 607,689.5 612.5,681.25 618.75,674.5 623.25,686.25 628.75,689 634.5,685 640,682.5 645.75,717 650.75,708.75 656.25,713.25 662,710 667.5,709.5 673.25,722 678.25,719.5 683.75,717 689.5,727.5 695,735.75 700,736.25 705.5,737.5 710.75,702.5 716.25,706.25 722,715 727.5,722 733.75,736.25 738.25,735.75 743.75,724.5 749.5,718.75 755,720.5 760.5,725.5 766.25,712.5 771.25,703.75 776.75,695 782.5,697.5 788,702.5 793.25,705.5 798.25,700 804.25,710 809.25,725 815,713 820,708.75 825.5,706.5 831.25,718.75 837,731.25 842.5,729.5 848,731 853.75,751.25 858.5,752.25 864,737.5 870,732.5 875.5,715 880.75,702.5 886.25,705.5 891.25,706.25 897,697.5 902.5,705 908.25,696 913.75,704.25 919.25,701.25 924.25,700 930,708 935.5,710.75 940.5,708.25 946.25,711.25 951.75,721.25 957,725 962.5,713.25 968,716.25 973.25,723.75 978.75,727.5 984.5,722 990,725 995.75,730 1001.25,716.75 1006.25,730 1011.75,734 1017.5,722 1023,722 1028.25,721.5 1033.75,713 1039.5,711.25 1044.5,707.5 1050,712.5 1055.5,710.75 1061.25,714.25 1066.25,700 1072,699.25 1077.5,699.5 1082.5,697.5 1088.75,690.75 1093.75,688.75 1098.75,714.5 1104.5,717.5 1110,733.75 1115.5,732 1120.75,729.25 1126.25,735 1132,740.5 1137,738.75 1143,722 1148.75,722.5 1154.25,723.75 1159.25,725 1165,731.25 1170.5,740.75 1175.75,745 1181.25,756.25 1186.75,751.75 1192,754.5 1197.5,699.5 1203,711.25 1208.5,711.75 1214,716.25 1219.5,719 1225,712.5 1230.5,717.5 1236.25,710 1241.25,703.75 1246.25,701 1252,702.5 1257.5,702.5 1263.25,701.25 1268.75,704.5 1273.75,708.75" fill="none" stroke="#8a5fd6" stroke-width="1" stroke-linejoin="round" stroke-linecap="round"/>
<path d="M1230 687.5L1253 696.2M1247.4 684.8L1253 696.2L1240 702" fill="none" stroke="#2962ff" stroke-width="1.6" stroke-linecap="round" stroke-linejoin="round"/>
</svg>
<div class="t" style="left:-33.01px;top:12.69px;font-size:16px;line-height:20px;color:#1b1b1b;font-weight:700;letter-spacing:0.092px;">Next key potential resistance 7,060 to 7,080</div>
<div class="b" style="left:0;top:664.5px;width:147.5px;height:20.5px;background:rgba(255,255,255,.55)"></div>
<div class="b" style="left:0;top:0;width:610px;height:26px;background:rgba(255,255,255,.5)"></div>
<div class="b" style="left:0;top:22px;width:137px;height:25px;background:rgba(255,255,255,.5)"></div>

<svg class="b" style="left:0;top:0" width="300" height="80" viewBox="0 0 300 80">
<circle cx="13" cy="14" r="8.6" fill="#c8102e"/>
<path d="M230.5 6.4H244.4V21.8H230.5a4 4 0 0 1-4-4V10.4a4 4 0 0 1 4-4z" fill="#3fbfa6" fill-opacity=".27"/>
<path d="M244.4 6.4H258.7a4 4 0 0 1 4 4V17.8a4 4 0 0 1-4 4H244.4z" fill="#f0094f" fill-opacity=".22"/>
<circle cx="235.8" cy="14" r="3.5" fill="#3fbfa6"/>
<rect x="5.5" y="51.5" width="25.5" height="18.5" rx="3" fill="rgba(255,255,255,.82)" stroke="#e0e3eb" stroke-width="1"/>
<path d="M14.3 63.2L18.2 59.3L22.1 63.2" fill="none" stroke="#131722" stroke-width="1.4"/>
</svg>
<svg class="b" style="left:78px;top:662px" width="26" height="24" viewBox="0 0 26 24"><circle cx="13.7" cy="12" r="7.6" fill="#e6dcfa"/><path d="M9.8 11.2a4 4 0 0 1 7-1.6M17.6 12.8a4 4 0 0 1-7 1.6" fill="none" stroke="#a78be0" stroke-width="1.2"/></svg>
<div class="t" style="left:720px;top:63.09px;font-size:16px;line-height:20px;color:#10141c;font-weight:700;letter-spacing:-0.251px;">ATH Resistance and Range Highs from 7,000 to 7,020</div>
<div class="t" style="left:720px;top:113.49px;font-size:16px;line-height:20px;color:#0f2350;font-weight:700;letter-spacing:-0.178px;">Previous ATH Resistance 6,945 to 6,975</div>
<div class="t" style="left:987.9px;top:175.54px;font-size:16px;line-height:20px;color:#10141c;font-weight:700;letter-spacing:-0.184px;">Key Resistance Zone 6,880 to 6,900</div>
<div class="t" style="left:993.6px;top:221.99px;font-size:16px;line-height:20px;color:#0f2350;font-weight:700;letter-spacing:-0.166px;">Early March Resistance 6,820 to 6,840</div>
<div class="t" style="left:1048px;top:264.19px;font-size:16px;line-height:20px;color:#10141c;font-weight:700;letter-spacing:-0.129px;">Pivotal Resistance 6,770 to 6,800</div>
<div class="t" style="left:1243.3px;top:244.59px;font-size:13px;line-height:16px;color:#ef0b57;font-weight:700;letter-spacing:0.932px;">MA 200</div>
<div class="t" style="left:1134.5px;top:371.39px;font-size:13px;line-height:16px;color:#fba92e;font-weight:700;letter-spacing:0.723px;">MA 50</div>
<div class="t" style="left:291.8px;top:333.69px;font-size:16px;line-height:20px;color:#10141c;font-weight:700;letter-spacing:-0.174px;">March 3 lows 6,710</div>
<div class="t" style="left:445.6px;top:357.19px;font-size:16px;line-height:20px;color:#10141c;font-weight:700;letter-spacing:0.076px;">6,680 to 6,700 Mini-resistance</div>
<div class="t" style="left:445.6px;top:400.49px;font-size:16px;line-height:20px;color:#10243f;font-weight:700;letter-spacing:-0.022px;">Momentum Pivot 6,640 to 6,650</div>
<div class="t" style="left:445.6px;top:450.39px;font-size:16px;line-height:20px;color:#10141c;font-weight:700;letter-spacing:-0.102px;">6,570 to 6,600 Monday Key support</div>
<div class="t" style="left:601.7px;top:477.1px;font-size:11.5px;line-height:14px;color:#2d4878;letter-spacing:0.027px;">December FOMC Lows</div>
<div class="t" style="left:916px;top:538.68px;font-size:14px;line-height:18px;color:#10141c;font-weight:700;letter-spacing:0.095px;">6,490 to 6,512 October lows</div>
<div class="t" style="left:610px;top:589.23px;font-size:14px;line-height:18px;color:#0c1f1a;font-weight:700;letter-spacing:-0.071px;">6,442 War Lows</div>
<div class="t" style="left:1213px;top:43.48px;font-size:12px;line-height:15px;color:#10141c;font-weight:700;letter-spacing:0.196px;">Current ATH 7,020</div>
<div class="t" style="left:1288.7px;top:336.93px;font-size:12px;line-height:15px;color:#20242e;letter-spacing:0.192px;">6,700</div>
<div class="t" style="left:1135.5px;top:679.59px;font-size:16px;line-height:20px;color:#10141c;font-weight:700;letter-spacing:-0.418px;">Watch out!</div>
<div class="t" style="left:1337.2px;top:-1.51px;font-size:13px;line-height:16px;color:#131722;letter-spacing:0.538px;">7,080.0</div>
<div class="t" style="left:1337.2px;top:32.69px;font-size:13px;line-height:16px;color:#131722;letter-spacing:0.538px;">7,040.0</div>
<div class="t" style="left:1337.2px;top:69.79px;font-size:13px;line-height:16px;color:#131722;letter-spacing:0.538px;">7,000.0</div>
<div class="t" style="left:1337.2px;top:105.39px;font-size:13px;line-height:16px;color:#131722;letter-spacing:0.538px;">6,960.0</div>
<div class="t" style="left:1337.2px;top:141.29px;font-size:13px;line-height:16px;color:#131722;letter-spacing:0.538px;">6,920.0</div>
<div class="t" style="left:1337.2px;top:178.29px;font-size:13px;line-height:16px;color:#131722;letter-spacing:0.538px;">6,880.0</div>
<div class="t" style="left:1337.2px;top:224.09px;font-size:13px;line-height:16px;color:#131722;letter-spacing:0.538px;">6,830.0</div>
<div class="t" style="left:1337.2px;top:269.79px;font-size:13px;line-height:16px;color:#131722;letter-spacing:0.538px;">6,780.0</div>
<div class="t" style="left:1337.2px;top:306.69px;font-size:13px;line-height:16px;color:#131722;letter-spacing:0.538px;">6,740.0</div>
<div class="t" style="left:1337.2px;top:382.09px;font-size:13px;line-height:16px;color:#131722;letter-spacing:0.538px;">6,660.0</div>
<div class="t" style="left:1337.2px;top:419.99px;font-size:13px;line-height:16px;color:#131722;letter-spacing:0.538px;">6,620.0</div>
<div class="t" style="left:1337.2px;top:495.49px;font-size:13px;line-height:16px;color:#131722;letter-spacing:0.538px;">6,540.0</div>
<div class="t" style="left:1337.2px;top:533.79px;font-size:13px;line-height:16px;color:#131722;letter-spacing:0.538px;">6,500.0</div>
<div class="t" style="left:1337.2px;top:572.49px;font-size:13px;line-height:16px;color:#131722;letter-spacing:0.538px;">6,460.0</div>
<div class="t" style="left:1337.2px;top:607.99px;font-size:13px;line-height:16px;color:#131722;letter-spacing:0.538px;">6,424.0</div>
<div class="t" style="left:1337.2px;top:641.89px;font-size:13px;line-height:16px;color:#131722;letter-spacing:0.538px;">6,389.0</div>
<div class="t" style="left:1336.4px;top:680.49px;font-size:13px;line-height:16px;color:#131722;letter-spacing:0.767px;">60.00</div>
<div class="t" style="left:1336.4px;top:718.99px;font-size:13px;line-height:16px;color:#131722;letter-spacing:0.767px;">40.00</div>
<div class="b" style="left:1327.5px;top:740px;width:72.5px;height:24px;overflow:hidden"><div class="t" style="left:8.9px;top:15.79px;font-size:13px;line-height:16px;color:#131722;letter-spacing:0.767px;">20.00</div></div>
<div class="b" style="left:1327.7px;top:50.1px;width:61.6px;height:19.1px;background:#2a2a2a;border-radius:2.5px"></div>
<div class="t" style="left:1337.2px;top:51.99px;font-size:13px;line-height:16px;color:#fff;letter-spacing:0.538px;">7,020.6</div>
<div class="b" style="left:1327.6px;top:254.4px;width:61.6px;height:19.5px;background:#f0094f;border-radius:2.5px"></div>
<div class="t" style="left:1337.2px;top:256.49px;font-size:13px;line-height:16px;color:#fff;letter-spacing:0.538px;">6,794.7</div>
<div class="b" style="left:1327.6px;top:324.4px;width:61.6px;height:37.9px;background:#0c2250;border-radius:2.5px"></div>
<div class="t" style="left:1337.2px;top:325.69px;font-size:13px;line-height:16px;color:#fff;letter-spacing:0.538px;">6,710.5</div>
<div class="t" style="left:1337.2px;top:344.29px;font-size:13px;line-height:16px;color:#fff;letter-spacing:0.538px;">6,700.0</div>
<div class="b" style="left:1327.6px;top:408.1px;width:61.6px;height:18.8px;background:#fab01f;border-radius:2.5px"></div>
<div class="t" style="left:1337.2px;top:408.99px;font-size:13px;line-height:16px;color:#131722;letter-spacing:0.538px;">6,631.6</div>
<div class="b" style="left:1327.6px;top:438.5px;width:70.6px;height:33.7px;background:#f0094f;border-radius:3px"></div>
<div class="t" style="left:1337.2px;top:439.19px;font-size:13px;line-height:16px;color:#fff;letter-spacing:0.538px;">6,600.0</div>
<div class="t" style="left:1337.2px;top:453.69px;font-size:13px;line-height:16px;color:#ffc3d6;letter-spacing:0.128px;">01:29:10</div>
<div class="b" style="left:1327.6px;top:473.6px;width:62px;height:19.1px;background:#0c2250;border-radius:2.5px"></div>
<div class="t" style="left:1337.2px;top:474.99px;font-size:13px;line-height:16px;color:#fff;letter-spacing:0.538px;">6,562.4</div>
<div class="b" style="left:1327.6px;top:588.4px;width:62px;height:19.2px;background:#000;border-radius:2.5px"></div>
<div class="t" style="left:1337.2px;top:590.49px;font-size:13px;line-height:16px;color:#fff;letter-spacing:0.538px;">6,442.8</div>
<div class="b" style="left:1327.6px;top:700px;width:49.4px;height:19.5px;background:#7e57c2;border-radius:2.5px"></div>
<div class="t" style="left:1336.4px;top:702.09px;font-size:13px;line-height:16px;color:#fff;letter-spacing:0.767px;">48.90</div>
<div class="t" style="left:26.94px;top:772.99px;font-size:13px;line-height:16px;color:#131722;font-weight:700;">Feb</div>
<div class="t" style="left:111.38px;top:772.99px;font-size:13px;line-height:16px;color:#131722;">4</div>
<div class="t" style="left:176.88px;top:772.99px;font-size:13px;line-height:16px;color:#131722;">6</div>
<div class="t" style="left:239.27px;top:772.99px;font-size:13px;line-height:16px;color:#131722;">10</div>
<div class="t" style="left:304.77px;top:772.99px;font-size:13px;line-height:16px;color:#131722;">12</div>
<div class="t" style="left:370.27px;top:772.99px;font-size:13px;line-height:16px;color:#131722;">16</div>
<div class="t" style="left:430.77px;top:772.99px;font-size:13px;line-height:16px;color:#131722;">18</div>
<div class="t" style="left:495.77px;top:772.99px;font-size:13px;line-height:16px;color:#131722;">20</div>
<div class="t" style="left:561.77px;top:772.99px;font-size:13px;line-height:16px;color:#131722;">24</div>
<div class="t" style="left:677.44px;top:772.99px;font-size:13px;line-height:16px;color:#131722;font-weight:700;">Mar</div>
<div class="t" style="left:762.18px;top:772.99px;font-size:13px;line-height:16px;color:#131722;">4</div>
<div class="t" style="left:827.38px;top:772.99px;font-size:13px;line-height:16px;color:#131722;">6</div>
<div class="t" style="left:890.27px;top:772.99px;font-size:13px;line-height:16px;color:#131722;">10</div>
<div class="t" style="left:955.77px;top:772.99px;font-size:13px;line-height:16px;color:#131722;">12</div>
<div class="t" style="left:1021.57px;top:772.99px;font-size:13px;line-height:16px;color:#131722;">16</div>
<div class="t" style="left:1087.27px;top:772.99px;font-size:13px;line-height:16px;color:#131722;">18</div>
<div class="t" style="left:1152.27px;top:772.99px;font-size:13px;line-height:16px;color:#131722;">20</div>
<div class="t" style="left:1217.77px;top:772.99px;font-size:13px;line-height:16px;color:#131722;">24</div>
<div class="t" style="left:1283.27px;top:772.99px;font-size:13px;line-height:16px;color:#131722;">26</div>
<div class="t" style="left:25.6px;top:6.09px;font-size:16px;line-height:20px;color:#131722;letter-spacing:-0.704px;">S&amp;P 500 Index · 4h · OANDA</div>
<div class="t" style="left:272px;top:7.09px;font-size:13px;line-height:16px;color:#3a3e4a;">O</div>
<div class="t" style="left:281.9px;top:7.09px;font-size:13px;line-height:16px;color:#f2064f;letter-spacing:0.121px;">6,613.9</div>
<div class="t" style="left:332.7px;top:7.09px;font-size:13px;line-height:16px;color:#3a3e4a;">H</div>
<div class="t" style="left:342px;top:7.09px;font-size:13px;line-height:16px;color:#f2064f;letter-spacing:0.154px;">6,630.4</div>
<div class="t" style="left:393.6px;top:7.09px;font-size:13px;line-height:16px;color:#3a3e4a;">L</div>
<div class="t" style="left:401.5px;top:7.09px;font-size:13px;line-height:16px;color:#f2064f;letter-spacing:0.154px;">6,591.6</div>
<div class="t" style="left:452.3px;top:7.09px;font-size:13px;line-height:16px;color:#3a3e4a;">C</div>
<div class="t" style="left:461.3px;top:7.09px;font-size:13px;line-height:16px;color:#f2064f;letter-spacing:0.188px;">6,600.0</div>
<div class="t" style="left:513px;top:7.09px;font-size:13px;line-height:16px;color:#f2064f;letter-spacing:0.029px;">−13.8 (−0.21%)</div>
<div class="t" style="left:5.3px;top:29.89px;font-size:13px;line-height:16px;color:#131722;letter-spacing:-1.001px;">MAs</div>
<div class="t" style="left:37.6px;top:29.89px;font-size:13px;line-height:16px;color:#f7a83c;letter-spacing:0.171px;">6,631.6</div>
<div class="t" style="left:88.6px;top:29.89px;font-size:13px;line-height:16px;color:#f2064f;letter-spacing:0.038px;">6,794.7</div>
<div class="t" style="left:5px;top:667.53px;font-size:12px;line-height:15px;color:#131722;letter-spacing:-0.702px;">RSI</div>
<div class="t" style="left:27.5px;top:666.79px;font-size:13px;line-height:16px;color:#6a6d78;letter-spacing:-0.203px;">14 close</div>
<div class="t" style="left:108px;top:666.79px;font-size:13px;line-height:16px;color:#8d63d2;letter-spacing:0.192px;">48.90</div>
<div class="t" style="left:7.1px;top:9.9px;font-size:8px;line-height:10px;color:#fff;font-weight:700;letter-spacing:-0.774px;">500</div>
<div class="t" style="left:248px;top:5.69px;font-size:16px;line-height:20px;color:#f2064f;">≈</div>
<svg class="b" style="left:0;top:730px" width="170" height="32" viewBox="0 730 170 32">
<g fill="#131313" stroke="#fff" stroke-width="2.4" stroke-linejoin="round" paint-order="stroke">
<path d="M7.75 738.75H18.75V752.75H11.9V743.6H7.75Z"/>
<circle cx="23.4" cy="741.3" r="2.45"/>
<path d="M27.3 738.75H35.6L30.4 752.75H23.75Z"/>
</g></svg><div class="t" style="left:42.5px;top:735.22px;font-size:20px;line-height:24px;color:#131313;font-weight:700;letter-spacing:-0.444px;-webkit-text-stroke:2.6px #fff;paint-order:stroke fill;">TradingView</div>
<svg class="b" style="left:1354px;top:771px" width="22" height="22" viewBox="0 0 22 22"><path d="M7.2 4.6h7.6l3.6 6.4-3.6 6.4H7.2L3.6 11z" fill="none" stroke="#131722" stroke-width="1.15" stroke-linejoin="round"/><circle cx="11" cy="11" r="2.2" fill="none" stroke="#131722" stroke-width="1.15"/></svg>
</div>
</body></html>
